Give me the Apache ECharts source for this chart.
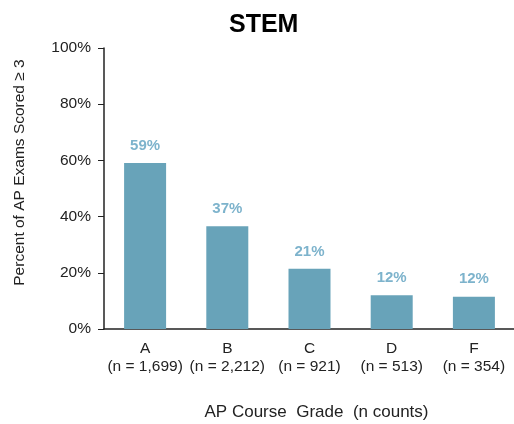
<!DOCTYPE html>
<html>
<head>
<meta charset="utf-8">
<script src="https://cdn.jsdelivr.net/npm/echarts@6/dist/echarts.min.js"></script>
<style>
  html, body { margin: 0; padding: 0; background: #fff; }
  #chart { width: 514px; height: 424px; }
</style>
</head>
<body>
<div id="chart"></div>
<script>
// chart data
var grades = ['A', 'B', 'C', 'D', 'F'];
var counts = ['1,699', '2,212', '921', '513', '354'];
var passRates = [59.1, 36.6, 21.4, 12.0, 11.5];
var rateLabels = ['59%', '37%', '21%', '12%', '12%'];
var yTicks = [0, 20, 40, 60, 80, 100];

var categories = [];
for (var i = 0; i < grades.length; i++) {
    categories.push(grades[i] + '\n(n = ' + counts[i] + ')');
}

var font = '"Liberation Sans", Arial, sans-serif';
var myChart = echarts.init(document.getElementById('chart'));

var option = {
    animation: false,
    textStyle: { fontFamily: font },
    title: {
        text: 'STEM',
        left: 224,
        top: 8,
        textStyle: { fontFamily: font, fontSize: 25, fontWeight: 'bold', color: '#000' }
    },
    grid: { left: 104, top: 48, right: -1, bottom: 95, containLabel: false, outerBoundsMode: 'none' },
    xAxis: {
        type: 'category',
        data: categories,
        name: 'AP Course  Grade  (n counts)',
        nameLocation: 'middle',
        nameGap: 75,
        nameTextStyle: { fontFamily: font, fontSize: 17, color: '#222', padding: [0, 0, 0, 14] },
        axisLine: { lineStyle: { color: '#222', width: 1.5 } },
        axisTick: { show: false },
        axisLabel: { color: '#222', fontSize: 15.5, lineHeight: 18, margin: 11, interval: 0 }
    },
    yAxis: {
        type: 'value',
        min: yTicks[0],
        max: yTicks[yTicks.length - 1],
        interval: 20,
        name: 'Percent of AP Exams Scored \u2265 3',
        nameLocation: 'middle',
        nameGap: 76,
        nameTextStyle: { fontFamily: font, fontSize: 15.5, color: '#222', padding: [0, 0, 0, 32] },
        axisLine: { show: true, lineStyle: { color: '#222', width: 1.5 } },
        axisTick: { show: true, length: 6, lineStyle: { color: '#222' } },
        splitLine: { show: false },
        axisLabel: { color: '#222', fontSize: 15.5, margin: 13, formatter: '{value}%' }
    },
    series: [{
        type: 'bar',
        data: passRates,
        barWidth: 42,
        itemStyle: { color: '#68A3B9' },
        label: {
            show: true,
            position: 'top',
            distance: 10,
            fontSize: 15,
            fontWeight: 'bold',
            color: '#7DB3CC',
            formatter: function (p) { return rateLabels[p.dataIndex]; }
        }
    }]
};

myChart.setOption(option);
</script>
</body>
</html>
